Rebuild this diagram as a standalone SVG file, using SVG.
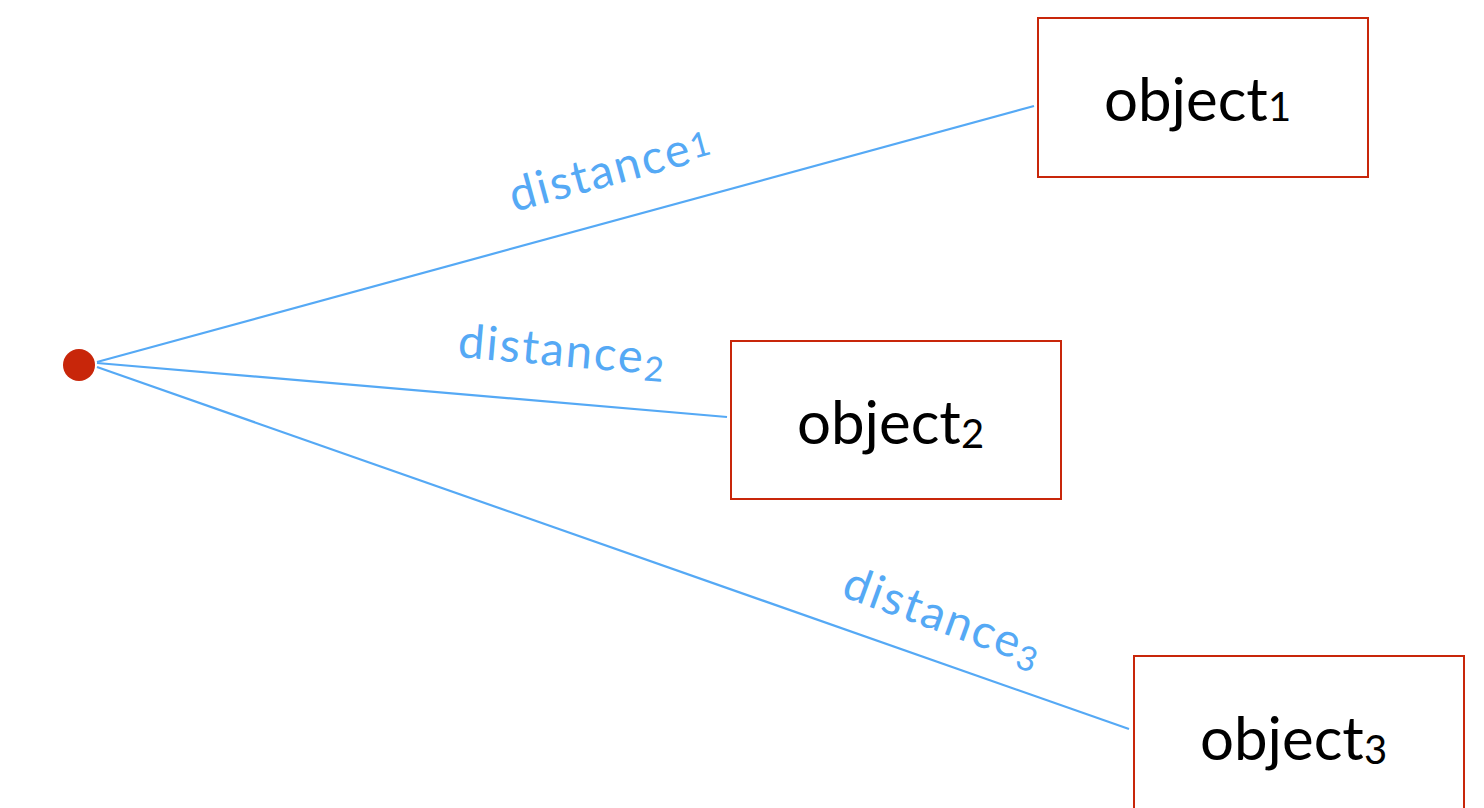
<svg xmlns="http://www.w3.org/2000/svg" width="1484" height="808" viewBox="0 0 1484 808">
<style>
.box{fill:#fff;stroke:#c8260a;stroke-width:2}
.obj{font-family:Lato,"Open Sans",sans-serif;font-size:60px;fill:#000}
.lbl{font-family:Lato,"Open Sans",sans-serif;font-size:47px;fill:#55a9f5;letter-spacing:2px}
.osub{font-size:40px}
.lsub{font-size:34px}
.conn{stroke:#55a9f5;stroke-width:2.2;fill:none}
</style>
<rect width="1484" height="808" fill="#fff"/>
<g id="connectors">
<line class="conn" x1="97" y1="362" x2="1034" y2="106"/>
<line class="conn" x1="97" y1="363" x2="727" y2="417"/>
<line class="conn" x1="97" y1="367" x2="1129" y2="729"/>
<text class="lbl" transform="translate(514,212) rotate(-15.3)">distance<tspan class="lsub" dy="-4">1</tspan></text>
<text class="lbl" transform="translate(457,357) rotate(5)">distance<tspan class="lsub" dy="7">2</tspan></text>
<text class="lbl" transform="translate(840,596) rotate(20)">distance<tspan class="lsub" dy="7">3</tspan></text>
</g>
<g id="origin"><circle cx="79" cy="365" r="16" fill="#c8260a"/></g>
<g id="object1"><rect class="box" x="1038" y="18" width="330" height="159"/><text class="obj" x="1104" y="121">object<tspan class="osub">1</tspan></text></g>
<g id="object2"><rect class="box" x="731" y="341" width="330" height="158"/><text class="obj" x="797" y="444">object<tspan class="osub" dy="4">2</tspan></text></g>
<g id="object3"><rect class="box" x="1134" y="656" width="330" height="159"/><text class="obj" x="1200" y="760">object<tspan class="osub" dy="4">3</tspan></text></g>
</svg>
